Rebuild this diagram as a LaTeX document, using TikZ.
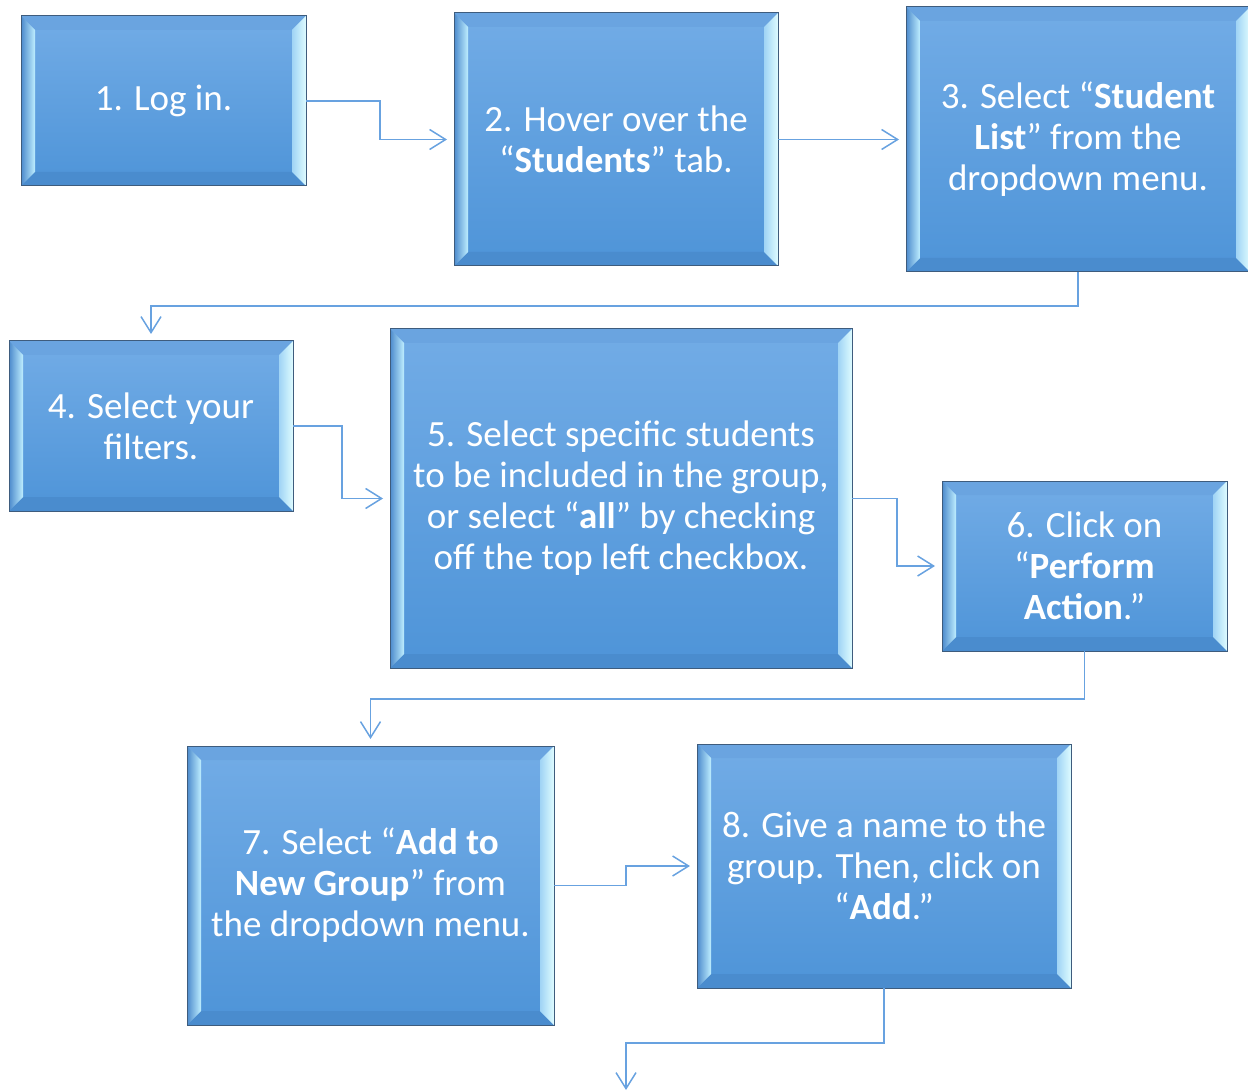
\documentclass[tikz,border=0pt]{standalone}
\usepackage{fontspec}
\setmainfont{Carlito}
\usetikzlibrary{arrows.meta}

\definecolor{facetop}{RGB}{114,172,230}
\definecolor{facebot}{RGB}{78,148,216}
\definecolor{bevtop}{RGB}{106,164,224}
\definecolor{bevbot}{RGB}{74,140,206}
\definecolor{bevdark}{RGB}{76,138,204}
\definecolor{bevlite}{RGB}{190,238,255}
\definecolor{bevglow}{RGB}{222,252,255}
\definecolor{boxline}{RGB}{62,92,125}
\definecolor{linkblue}{RGB}{104,162,224}

\tikzset{
  stepbox/.style={draw=boxline, line width=1pt, top color=facetop, bottom color=facebot,
    inner sep=0pt, outer sep=0pt, align=center, text=white,
    font=\fontsize{37}{41}\selectfont,
    path picture={
      % top and bottom bevel
      \fill[bevtop] (path picture bounding box.north west) -- (path picture bounding box.north east)
        -- ([shift={(-14pt,-14pt)}]path picture bounding box.north east)
        -- ([shift={(14pt,-14pt)}]path picture bounding box.north west) -- cycle;
      \fill[bevbot] (path picture bounding box.south west) -- (path picture bounding box.south east)
        -- ([shift={(-14pt,14pt)}]path picture bounding box.south east)
        -- ([shift={(14pt,14pt)}]path picture bounding box.south west) -- cycle;
      % left and right bevel
      \shade[left color=bevdark, right color=bevlite] (path picture bounding box.north west)
        -- ([shift={(14pt,-14pt)}]path picture bounding box.north west)
        -- ([shift={(14pt,14pt)}]path picture bounding box.south west)
        -- (path picture bounding box.south west) -- cycle;
      \shade[left color=bevlite!60!facetop, right color=bevglow] (path picture bounding box.north east)
        -- ([shift={(-14pt,-14pt)}]path picture bounding box.north east)
        -- ([shift={(-14pt,14pt)}]path picture bounding box.south east)
        -- (path picture bounding box.south east) -- cycle;
    }},
  link/.style={draw=linkblue, line width=1.5pt, -{Straight Barb[length=16pt,width=20pt]}, shorten >=7pt},
}

\begin{document}
\begin{tikzpicture}[x=1pt, y=-1pt]

  %% ════ steps ════
  \node[stepbox, minimum width=285pt, minimum height=170pt] (login) at (163.5,101) {1. Log in.};
  \node[stepbox, minimum width=324pt, minimum height=253pt] (hover) at (616,139.5)
    {2. Hover over the\\“\textbf{Students}” tab.};
  \node[stepbox, minimum width=344pt, minimum height=265pt] (pick) at (1078,139.5)
    {3. Select “\textbf{Student}\\\textbf{List}” from the\\dropdown menu.};
  \node[stepbox, minimum width=284pt, minimum height=170pt] (filters) at (151,426)
    {4. Select your\\filters.};
  \node[stepbox, minimum width=462pt, minimum height=339pt] (choose) at (621,498.5)
    {5. Select specific students\\to be included in the group,\\or select “\textbf{all}” by checking\\off the top left checkbox.};
  \node[stepbox, minimum width=285pt, minimum height=170pt] (perform) at (1084.5,566)
    {6. Click on\\“\textbf{Perform}\\\textbf{Action}.”};
  \node[stepbox, minimum width=367pt, minimum height=279pt] (addgrp) at (370.5,885.5)
    {7. Select “\textbf{Add to}\\\textbf{New Group}” from\\the dropdown menu.};
  \node[stepbox, minimum width=374pt, minimum height=244pt] (naming) at (884,866)
    {8. Give a name to the\\group. Then, click on\\“\textbf{Add}.”};
  \coordinate (fin) at (626,1090);

  %% ════ connectors ════
  \draw[link] (login.east) -- ++(74,0) |- (hover.west);
  \draw[link] (hover.east) -- (pick.west);
  \draw[link] (pick.south) -- ++(0,34) -| (filters.north);
  \draw[link] (filters.east) -- ++(49,0) |- (choose.west);
  \draw[link] (choose.east) -- ++(45,0) |- (perform.west);
  \draw[link] (perform.south) -- ++(0,48) -| (addgrp.north);
  \draw[link] (addgrp.east) -- ++(72,0) |- (naming.west);
  \draw[link, shorten >=0pt] (naming.south) -- ++(0,55) -| (fin);

  % fix the canvas
  \pgfresetboundingbox
  \path[use as bounding box] (0,0) rectangle (1248,1091);
\end{tikzpicture}
\end{document}
